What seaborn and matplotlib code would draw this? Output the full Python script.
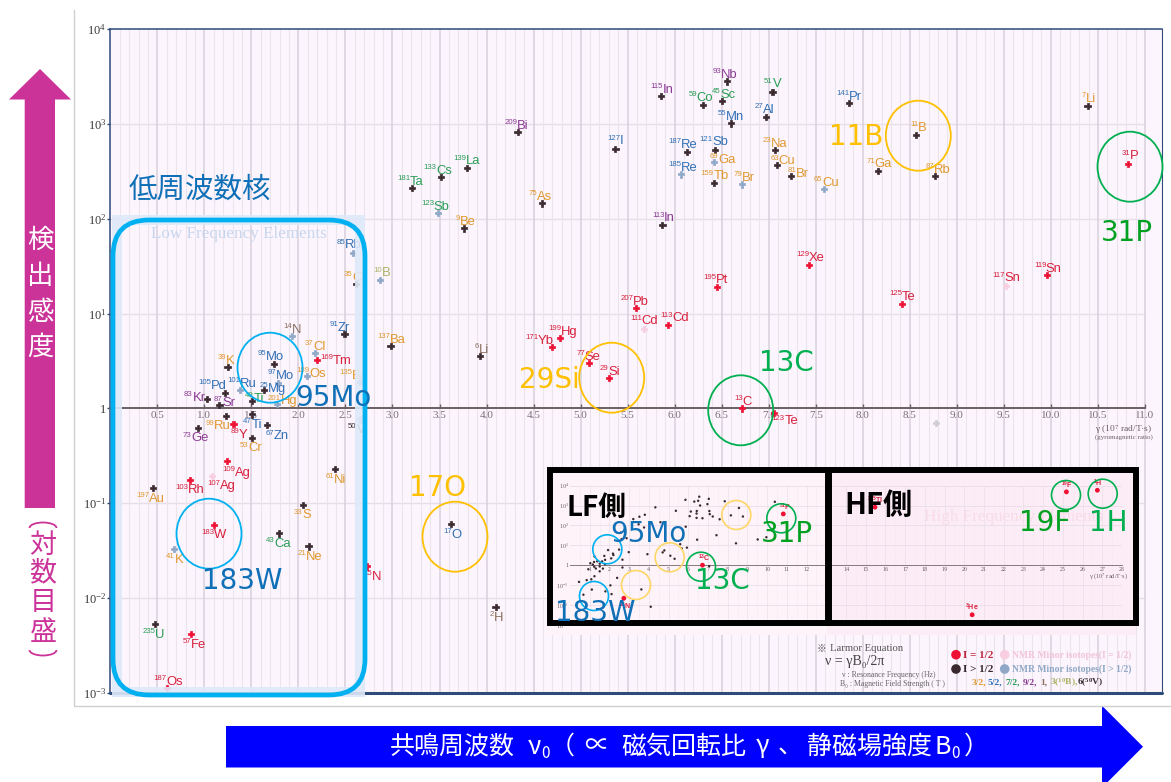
import matplotlib
matplotlib.use("Agg")
import matplotlib.pyplot as plt
from matplotlib.font_manager import FontProperties
from matplotlib.patches import Arc, Ellipse, FancyBboxPatch, Polygon, Rectangle
from matplotlib.textpath import TextPath
from matplotlib.ticker import NullLocator
import numpy as np
import pandas as pd
import seaborn as sns

# ---------- data ----------
mass = [85, 35, 10, 14, 91, 137, 37, 169, 189, 135,
        95, 97, 39, 105, 101, 25, 83, 87, 49, 201,
        47, 99, 89, 67, 73, 53, 50,
        109, 103, 107, 197, 61, 33, 183, 43, 21, 41,
        17, 15, 2, 235, 57, 187,
        181, 133, 139, 123, 9, 75, 209, 127, 115, 113,
        187, 185, 121, 69, 159, 79, 59, 45, 93, 55,
        51, 27, 23, 63, 81,
        141, 11, 71, 87, 65, 7, 31, 129, 125, 117, 119,
        6, 171, 199, 77, 29, 207, 111, 113, 195, 13, 123]
element = ["Rb", "Cl", "B", "N", "Zr", "Ba", "Cl", "Tm", "Os", "Ba",
           "Mo", "Mo", "K", "Pd", "Ru", "Mg", "Kr", "Sr", "Ti", "Hg",
           "Ti", "Ru", "Y", "Zn", "Ge", "Cr", "V",
           "Ag", "Rh", "Ag", "Au", "Ni", "S", "W", "Ca", "Ne", "K",
           "O", "N", "H", "U", "Fe", "Os",
           "Ta", "Cs", "La", "Sb", "Be", "As", "Bi", "I", "In", "In",
           "Re", "Re", "Sb", "Ga", "Tb", "Br", "Co", "Sc", "Nb", "Mn",
           "V", "Al", "Na", "Cu", "Br",
           "Pr", "B", "Ga", "Rb", "Cu", "Li", "P", "Xe", "Te", "Sn", "Sn",
           "Li", "Yb", "Hg", "Se", "Si", "Pb", "Cd", "Cd", "Pt", "C", "Te"]
gamma = [2.58, 2.615, 2.87, 1.93, 2.49, 2.98, 2.18, 2.20, 2.09, 2.66,
         1.74, 1.78, 1.247, 1.22, 1.38, 1.63, 1.03, 1.16, 1.506, 1.77,
         1.506, 1.23, 1.31, 1.67, 0.93, 1.506, 2.66,
         1.24, 0.847, 1.08, 0.457, 2.39, 2.05, 1.106, 1.797, 2.108, 0.68,
         3.62, 2.73, 4.096, 0.478, 0.861, 0.60,
         3.21, 3.52, 3.795, 3.48, 3.757, 4.59, 4.33, 5.37, 5.855, 5.87,
         6.13, 6.07, 6.43, 6.42, 6.42, 6.72, 6.305, 6.50, 6.556, 6.60,
         7.04, 6.97, 7.07, 7.09, 7.24,
         7.85, 8.57, 8.16, 8.77, 7.59, 10.39, 10.82, 7.43, 8.42, 9.52, 9.96,
         3.927, 4.70, 4.785, 5.09, 5.305, 5.59, 5.67, 5.93, 6.45, 6.72, 7.06]
sensitivity = [43.9, 20.5, 22.8, 5.77, 6.1, 4.53, 3.82, 3.23, 2.2, 1.89,
               2.93, 1.86, 2.72, 1.45, 1.56, 1.55, 1.25, 1.08, 1.19, 1.12,
               0.865, 0.837, 0.68, 0.673, 0.625, 0.491, 0.766,
               0.278, 0.177, 0.195, 0.144, 0.229, 0.0964, 0.0594, 0.0481, 0.0351, 0.0327,
               0.0603, 0.0216, 0.0081, 0.0053, 0.00417, 0.00112,
               209, 275, 345, 114, 79, 145, 813, 547, 1950, 86.5,
               501, 293, 533, 398, 240, 230, 1585, 1738, 2800, 1010,
               2180, 1180, 530, 371, 282,
               1645, 760, 321, 282, 204, 1550, 380, 32.3, 12.6, 19.7, 25.5,
               3.57, 4.41, 5.53, 2.99, 2.1, 11.4, 6.94, 7.64, 19.2, 1.0, 0.9]
spin_class = ["mq", "q", "mq", "mq", "q", "q", "mq", "h", "mq", "mq",
              "q", "mq", "q", "q", "mq", "q", "q", "q", "q", "mq",
              "q", "q", "h", "q", "q", "q", "mq",
              "h", "h", "mh", "q", "q", "q", "h", "q", "q", "mq",
              "q", "h", "q", "q", "h", "h",
              "q", "q", "q", "mq", "q", "q", "q", "q", "q", "q",
              "q", "mq", "q", "mq", "q", "mq", "q", "q", "q", "q",
              "q", "q", "q", "q", "q",
              "q", "q", "q", "q", "mq", "q", "h", "h", "h", "mh", "h",
              "q", "h", "h", "h", "h", "h", "mh", "h", "h", "h", "h"]
spin_group = ["b", "o", "l", "n", "b", "o", "o", "r", "o", "o",
              "b", "b", "o", "b", "b", "b", "p", "p", "g", "o",
              "b", "o", "r", "b", "p", "o", "k",
              "r", "r", "r", "o", "o", "o", "r", "g", "o", "o",
              "b", "r", "n", "g", "r", "r",
              "g", "g", "g", "g", "o", "o", "p", "b", "p", "p",
              "b", "b", "b", "o", "o", "o", "g", "g", "p", "b",
              "g", "b", "o", "o", "o",
              "b", "o", "o", "o", "o", "o", "r", "r", "r", "r", "r",
              "n", "r", "r", "r", "r", "r", "r", "r", "r", "r", "r"]

unlabeled_gamma = [8.78]
unlabeled_sensitivity = [0.697]

hf_label = ["$^{1}$H", "$^{19}$F", "$^{3}$He", "$^{205}$Tl"]
hf_gamma = [26.75, 25.18, 20.4, 15.47]
hf_sensitivity = [5900, 4900, 0.0032, 830]
inset_highlight = ["P", "C", "N"]

gamma_ticks = [round(0.5 * i, 1) for i in range(1, 23)]
decades = [1e-3, 1e-2, 1e-1, 1, 1e1, 1e2, 1e3, 1e4]
decade_labels = ["$10^{-3}$", "$10^{-2}$", "$10^{-1}$", "1", "$10^{1}$", "$10^{2}$", "$10^{3}$", "$10^{4}$"]

# ---------- label placement and styles (pixels) ----------
label_dx = [-5, -3, 1, -1, -5, 0, -1, 18, 4, -7,
            -4, 2, -2, -13, 1, 8, -13, 5, 2, 5,
            0, -9, 5, 9, -3, -1, -4,
            9, -1, 9, -3, 0, -1, -1, -1, 1, 0,
            1, 4, 0, -3, 2, 1,
            -2, -4, -1, -3, 1, -2, -2, -1, 0, 0,
            -5, 1, -2, 8, 0, 1, -3, 2, -3, -1,
            0, -2, -1, 5, 6,
            0, 1, 1, 2, 1, 0, 1, 1, 0, 0, 0,
            1, -13, 2, -1, 0, -2, 0, 6, -2, 0, 10]
label_dy = [9, 8, 8, 8, 8, 8, 8, 1, 4, 8,
            9, 9, 8, 9, 8, 3, 3, 4, 4, 4,
            -9, -9, -9, -10, -9, -9, -9,
            -10, -9, -9, -9, -9, -9, -9, -9, -9, -9,
            -9, -9, -9, -9, -9, 8,
            8, 8, 8, 8, 8, 8, 8, 9, 8, 8,
            9, 8, 9, 4, 8, 8, 9, 8, 8, 8,
            9, 9, 8, 5, 4,
            8, 9, 8, 8, 8, 9, 9, 9, 9, 9, 8,
            8, 8, 8, 8, 8, 8, 9, 8, 8, 8, -7]

W, H = 1171, 782
SERIF = "Liberation Serif"
SANS = "Liberation Sans"
CJK = ["Noto Sans CJK JP", "DejaVu Sans"]
LATIN = "DejaVu Sans"
tone_color = {"o": "#e0982f", "b": "#2f6fb5", "g": "#2a9d55", "p": "#8b3a93", "r": "#d8203c",
              "n": "#8a6d5e", "l": "#a9b266", "k": "#3a3034"}
class_color = {"h": "#ee1133", "q": "#3a2a30", "mh": "#f8cfe0", "mq": "#8fa8c8"}
BG = "#fcf5fd"
CYAN = "#00b0f0"
BLUE_T = "#0f70b7"
YEL = "#ffc000"
GRN = "#00b050"
GRN2 = "#00a020"
MAG = "#cc3399"
EL_SIZE = 9.4
SUP_SIZE = 5.6

sns.set_theme(style="white")
plt.rcParams["mathtext.default"] = "regular"
plt.rcParams["font.family"] = [SANS, "DejaVu Sans"]

df = pd.DataFrame({"gamma": gamma, "sens": sensitivity, "cls": spin_class})
hf = pd.DataFrame({"gamma": hf_gamma, "sens": hf_sensitivity})
labels = [f"$^{{{m}}}${e}" for m, e in zip(mass, element)]

fig = plt.figure(figsize=(W / 100, H / 100), dpi=100, facecolor="white")


def px_axes(x0, y0, x1, y1, **kw):
    return fig.add_axes([x0 / W, 1 - y1 / H, (x1 - x0) / W, (y1 - y0) / H], **kw)


def text_width(s, size):
    return TextPath((0, 0), s, size=size, prop=FontProperties(family=SANS)).get_extents().width


# ---------- main axes ----------
ax = px_axes(110.3, 29, 1162, 693, facecolor=BG, zorder=1)
ax.set_yscale("log")
ax.spines["bottom"].set_position(("data", 1))
ax.set_xlim(0, (1162 - 110.3) / 94.06)
ax.set_ylim(1e-3, 1e4)
ax.set_axisbelow(True)
ax.set_xticks(gamma_ticks)
ax.set_xticklabels([f"{t:.1f}" for t in gamma_ticks], fontfamily=SERIF, fontsize=8, color="#7a7078")
ax.set_xticks(np.arange(0.1, 11.05, 0.1), minor=True)
ax.grid(True, axis="x", which="major", color="#d8d0da", lw=1.1)
ax.grid(True, axis="x", which="minor", color="#ebe4ec", lw=0.8)
ax.grid(False, axis="y")
ax.hlines([d for d in decades[1:-1] if d != 1], 0, 11, color="#e6dfe7", lw=1.0, zorder=0.5)
ax.set_yticks(decades)
ax.set_yticklabels(decade_labels, fontfamily=SERIF, fontsize=9, color="#3a3a3a")
ax.yaxis.set_minor_locator(NullLocator())
ax.tick_params(axis="y", which="major", left=True, length=2, width=1, color="#2d4a78", pad=1)
ax.tick_params(axis="x", which="major", bottom=True, direction="in", length=3, width=1, color="#6a5f62", pad=2)
ax.tick_params(axis="x", which="minor", bottom=False)
ax.spines["bottom"].set_bounds(0, 11)
ax.spines["bottom"].set_color("#6a5f62")
ax.spines["bottom"].set_linewidth(1.4)
for side in ("left", "top", "right"):
    ax.spines[side].set_visible(True)
    ax.spines[side].set_color("#2d4a78")
    ax.spines[side].set_linewidth(1.1)
ax.spines["right"].set_linewidth(0.8)
ax.axhline(1e-3, color="#2d4a78", lw=2.2, clip_on=False, zorder=3)

sns.scatterplot(data=df, x="gamma", y="sens", hue="cls", palette=class_color, marker="P", s=20,
                edgecolor="face", linewidth=0.5, legend=False, ax=ax, zorder=4)
sns.scatterplot(x=unlabeled_gamma, y=unlabeled_sensitivity, color="#cfcdd4", marker="P", s=20,
                edgecolor="face", linewidth=0.5, legend=False, ax=ax, zorder=4)
ax.set_xlabel("")
ax.set_ylabel("")
for m, e, gx, sy, tone, dx, dy in zip(mass, element, gamma, sensitivity, spin_group, label_dx, label_dy):
    col = tone_color[tone]
    w_s = text_width(str(m), SUP_SIZE) + 0.4
    w_e = text_width(e, EL_SIZE)
    x0 = dx * 0.72 - (w_s + w_e) / 2
    base = dy * 0.72 - EL_SIZE * 0.36
    ax.annotate(str(m), (gx, sy), xytext=(x0, base + EL_SIZE * 0.36), textcoords="offset points",
                ha="left", va="baseline", fontsize=SUP_SIZE, color=col, family=SANS, zorder=5)
    ax.annotate(e, (gx, sy), xytext=(x0 + w_s, base), textcoords="offset points",
                ha="left", va="baseline", fontsize=EL_SIZE, color=col, family=SANS, zorder=5)

# ---------- inset background ----------
under = px_axes(0, 0, W, H, zorder=2)
under.set_xlim(0, W)
under.set_ylim(H, 0)
under.axis("off")
under.add_patch(Rectangle((547, 467), 280, 168, fc="#fdf3f9", ec="none"))
under.add_patch(Rectangle((827, 467), 309, 168, fc="#fcecf5", ec="none"))

# ---------- inset: whole gamma range ----------
ins = px_axes(570, 485.7, 1122, 624.8, facecolor="none", zorder=3)
ins.set_yscale("log")
ins.spines["bottom"].set_position(("data", 1))
ins.set_xlim(0, 28)
ins.set_ylim(1e-3, 1e4)
ins_ticks = [i for i in range(1, 29) if i != 13]
ins.set_xticks(ins_ticks)
ins.set_xticklabels([str(i) for i in ins_ticks], fontfamily=SERIF, fontsize=4.3, color="#6a6066")
ins.set_xticks(np.arange(0.5, 28, 0.5), minor=True)
ins.set_yticks(decades)
ins.set_yticklabels(decade_labels, fontfamily=SERIF, fontsize=4.3, color="#6a6066")
ins.yaxis.set_minor_locator(NullLocator())
ins.grid(True, axis="x", which="major", color="#ecdfea", lw=0.5)
ins.grid(True, axis="x", which="minor", color="#f4e9f1", lw=0.4)
ins.grid(True, axis="y", which="major", color="#eadde8", lw=0.6)
ins.spines["bottom"].set_color("#85797e")
ins.spines["bottom"].set_linewidth(0.7)
for side in ("left", "top", "right"):
    ins.spines[side].set_visible(False)
ins.tick_params(axis="both", which="both", length=0, pad=1)
mask = np.array([e in inset_highlight and m in (31, 13, 15) for e, m in zip(element, mass)])
sns.scatterplot(data=df[~mask], x="gamma", y="sens", color="#3a2a30", s=3, edgecolor="none", legend=False, ax=ins, zorder=3)
sns.scatterplot(data=df[mask], x="gamma", y="sens", color="#ee1133", s=12, edgecolor="none", legend=False, ax=ins, zorder=4)
sns.scatterplot(data=hf, x="gamma", y="sens", color="#ee1133", s=12, edgecolor="none", legend=False, ax=ins, zorder=4)
ins.set_xlabel("")
ins.set_ylabel("")
for txt, gx, sy, m, e in zip(labels, gamma, sensitivity, mass, element):
    if e in inset_highlight and m in (31, 13, 15):
        ins.annotate(txt, (gx, sy), xytext=(1, -6 if m == 15 else 5), textcoords="offset points",
                     ha="center", va="center", fontsize=5, color="#d8203c", family=SANS, fontweight="bold")
for txt, gx, sy in zip(hf_label, hf_gamma, hf_sensitivity):
    ins.annotate(txt, (gx, sy), xytext=(0, 5), textcoords="offset points", ha="center", va="center",
                 fontsize=5, color="#d8203c", family=SANS, fontweight="bold")

# ---------- everything laid over the plot ----------
ov = px_axes(0, 0, W, H, zorder=4)
ov.set_xlim(0, W)
ov.set_ylim(H, 0)
ov.axis("off")

# outer thin frame
ov.plot([74, 74, W], [10, 706, 706], color="#cfcfcf", lw=1.0)

# low-frequency band and ring
ov.add_patch(Rectangle((117, 220), 243, 472, fc="none", ec="#dfe9f9", lw=7.2, alpha=0.9))
ov.text(238.5, 234.5, "Low Frequency Elements", ha="center", va="center", fontsize=12.3,
        family=SERIF, color="#c7d6ee")
ov.add_patch(FancyBboxPatch((113, 220), 252, 475, boxstyle="round,pad=0,rounding_size=36",
                            fc="none", ec=CYAN, lw=3.4))

ring_x = [270, 209, 455, 611.7, 740.7, 918.3, 1130]
ring_y = [367.7, 533.7, 536.7, 377.7, 410.3, 135.7, 166.7]
ring_c = [CYAN, CYAN, YEL, YEL, GRN, YEL, GRN]
for cx, cy, c in zip(ring_x, ring_y, ring_c):
    ov.add_patch(Ellipse((cx, cy), 65, 70, fc="none", ec=c, lw=1.3))

small_x = [607.3, 594, 636, 669.7, 736.3, 701, 781.3, 1066, 1102.7]
small_y = [549.3, 596, 585, 557.3, 515, 566.7, 518.3, 495, 493.7]
small_c = [CYAN, CYAN, "#ffd766", "#ffd766", "#ffd766", GRN, GRN, GRN, GRN]
for cx, cy, c in zip(small_x, small_y, small_c):
    ov.add_patch(Ellipse((cx, cy), 29, 29, fc="none", ec=c, lw=1.2))

ov.text(924, 517, "High Frequency Elements", ha="left", va="center", fontsize=12.3, family=SERIF,
        color="#f8dbe8", zorder=1)
ov.add_patch(Rectangle((550, 470), 278, 153, fc="none", ec="black", lw=4.3))
ov.add_patch(Rectangle((829, 470), 307, 153, fc="none", ec="black", lw=4.3))
ov.text(596.5, 508, "LF側", ha="center", va="center", fontsize=20, fontweight="bold", family=CJK, color="black")
ov.text(878, 505, "HF側", ha="center", va="center", fontsize=21, fontweight="bold", family=CJK, color="black")

ov.text(200, 190, "低周波数核", ha="center", va="center", fontsize=20.5, family=CJK, color=BLUE_T)
note_txt = ["95Mo", "183W", "17O", "29Si", "13C", "11B", "31P",
            "95Mo", "183W", "13C", "31P", "19F", "1H"]
note_x = [333.5, 242.5, 437, 549, 786.5, 856.5, 1126.5,
          648.5, 595, 722, 786.5, 1044.5, 1108]
note_y = [398, 581, 488, 380, 363, 137, 233,
          534, 613, 581, 534, 523, 523]
note_c = [BLUE_T, BLUE_T, YEL, YEL, GRN, YEL, GRN2,
          BLUE_T, BLUE_T, GRN, GRN2, GRN2, GRN]
for t, nx, ny, c in zip(note_txt, note_x, note_y, note_c):
    ov.text(nx, ny, t, ha="center", va="center", fontsize=20, family=LATIN, color=c)

# axis caption in the main plot
ov.text(1124, 430, "γ (10$^{7}$ rad/T·s)", ha="center", va="center", fontsize=6.8, family=SERIF, color="#6a6066")
ov.text(1124, 437.5, "(gyromagnetic ratio)", ha="center", va="center", fontsize=5, family=SERIF, color="#6a6066")
ov.text(1109, 576, "γ (10$^{7}$ rad/T·s)", ha="center", va="center", fontsize=4.6, family=SERIF, color="#6a6066")

# legend block
ov.text(822, 648.5, "※", ha="center", va="center", fontsize=7, family=CJK, color="#555555")
ov.text(830, 648.5, "Larmor Equation", ha="left", va="center", fontsize=7.7, family=SERIF, color="#555555")
ov.text(825, 662, "ν = γB₀/2π", ha="left", va="center", fontsize=10, family=[SERIF, "DejaVu Serif"], color="#444444")
ov.text(841.5, 675, "ν : Resonance Frequency (Hz)", ha="left", va="center", fontsize=5.6, family=[SERIF, "DejaVu Serif"], color="#666666")
ov.text(840.5, 683.5, "B₀ : Magnetic Field Strength ( T )", ha="left", va="center", fontsize=5.6, family=[SERIF, "DejaVu Serif"], color="#666666")

leg_x = [956, 956, 1004.7, 1004.7]
leg_y = [654.7, 669, 654.7, 669]
leg_c = [class_color["h"], class_color["q"], class_color["mh"], class_color["mq"]]
sns.scatterplot(x=leg_x, y=leg_y, c=leg_c, s=48, marker="o", edgecolor="none", legend=False, ax=ov)
ov.set_xlabel("")
ov.set_ylabel("")
ov.text(962.7, 655, "I = 1/2", ha="left", va="center", fontsize=8, family=SERIF, fontweight="bold", color="#c0283e")
ov.text(962.7, 669.5, "I > 1/2", ha="left", va="center", fontsize=8, family=SERIF, fontweight="bold", color="#3a2a30")
ov.text(1012, 655, "NMR Minor isotopes(I = 1/2)", ha="left", va="center", fontsize=6.9, family=SERIF, fontweight="bold", color="#f2c4d8")
ov.text(1012, 669.5, "NMR Minor isotopes(I > 1/2)", ha="left", va="center", fontsize=6.9, family=SERIF, fontweight="bold", color="#8ea8c6")
spin_txt = ["3/2,", "5/2,", "7/2,", "9/2,", "1,", "3($^{10}$B),", "6($^{50}$V)"]
spin_x = [971.5, 988, 1005.5, 1022.5, 1040, 1050, 1077]
spin_c = ["o", "b", "g", "p", "n", "l", "k"]
for t, sx, c in zip(spin_txt, spin_x, spin_c):
    ov.text(sx, 682.5, t, ha="left", va="center", fontsize=6.8, family=SERIF, fontweight="bold", color=tone_color[c])

# magenta sensitivity arrow
ov.add_patch(Polygon([(40, 69), (71, 99.5), (55, 99.5), (55, 508), (24.7, 508), (24.7, 99.5), (9, 99.5)],
                     closed=True, fc=MAG, ec="none"))
for ch, cy in zip("検出感度", [240, 277, 312, 347]):
    ov.text(40, cy, ch, ha="center", va="center", fontsize=19, family=CJK, color="white")
for ch, cy in zip("対数目盛", [545, 573, 602, 633]):
    ov.text(43, cy, ch, ha="center", va="center", fontsize=19.5, family=CJK, color=MAG)
ov.add_patch(Arc((43, 528), 27, 11, theta1=180, theta2=360, ec=MAG, lw=1.3))
ov.add_patch(Arc((43, 650), 27, 11, theta1=0, theta2=180, ec=MAG, lw=1.3))

# blue frequency arrow
ov.add_patch(Polygon([(226, 726), (1102, 726), (1102, 705.7), (1143, 746.7), (1102, 787.7), (1102, 767.5), (226, 767.5)],
                     closed=True, fc="#0000ff", ec="none"))
arrow_txt = ["共鳴周波数", "ν", "（", "∝", "磁気回転比", "γ", "、", "静磁場強度", "B", "）"]
arrow_x = [452, 534, 562, 597, 683.5, 763, 790, 870, 943, 976]
for t, ax_x in zip(arrow_txt, arrow_x):
    ov.text(ax_x, 746.5, t, ha="center", va="center", fontsize=18, family=CJK, color="white")
for ax_x in [546, 956]:
    ov.text(ax_x, 753.5, "0", ha="center", va="center", fontsize=11, family=CJK, color="white")

fig.savefig("out.png", dpi=100, facecolor="white")
